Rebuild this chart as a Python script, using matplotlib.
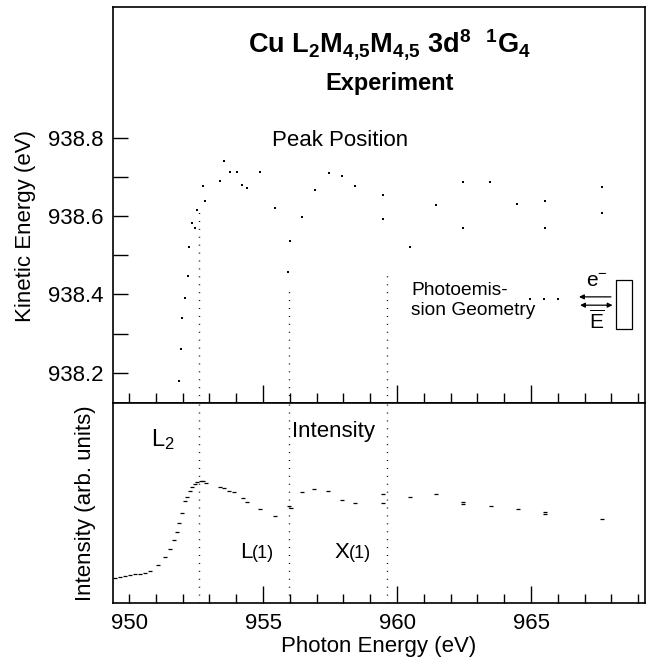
import matplotlib
matplotlib.use("Agg")
import matplotlib.pyplot as plt
from matplotlib.patches import Rectangle

plt.rcParams["font.family"] = ["Liberation Sans", "DejaVu Sans"]
plt.rcParams["mathtext.fontset"] = "custom"
plt.rcParams["mathtext.rm"] = "Liberation Sans"
plt.rcParams["mathtext.it"] = "Liberation Sans"
plt.rcParams["mathtext.bf"] = "Liberation Sans:bold"

# Peak position (kinetic energy) vs photon energy
peak_x = [951.87, 951.95, 951.99, 952.08, 952.20, 952.24, 952.33, 952.45, 952.54,
          952.75, 952.82, 953.40, 953.56, 953.77, 954.02, 954.22, 954.41, 954.89,
          955.44, 955.93, 956.01, 956.44, 956.93, 957.45, 957.96, 958.42, 959.46,
          959.48, 960.49, 961.46, 962.46, 962.46, 963.47, 964.47, 965.52, 965.52,
          967.64, 967.64]
peak_y = [938.178, 938.262, 938.339, 938.390, 938.448, 938.520, 938.582, 938.570,
          938.615, 938.678, 938.639, 938.691, 938.741, 938.713, 938.713, 938.680,
          938.671, 938.714, 938.621, 938.457, 938.536, 938.598, 938.666, 938.710,
          938.702, 938.678, 938.653, 938.593, 938.521, 938.628, 938.688, 938.570,
          938.688, 938.631, 938.639, 938.570, 938.675, 938.607]

# leader dots of the geometry sketch
lead_x = [964.96, 965.50, 966.02]
lead_y = [938.389, 938.389, 938.389]

# Intensity (arb. units)
int_x = [949.48, 949.66, 949.85, 950.04, 950.22, 950.41, 950.60, 950.78, 951.09,
         951.34, 951.53, 951.68, 951.78, 951.88, 951.99, 952.09, 952.18, 952.28,
         952.36, 952.46, 952.55, 952.67, 952.77, 952.87, 953.40, 953.54, 953.74,
         953.92, 954.24, 954.39, 954.89, 955.45, 955.98, 956.03, 956.44, 956.91,
         957.44, 957.96, 958.43, 959.46, 959.46, 960.50, 961.47, 962.47, 962.47,
         963.49, 964.50, 965.52, 965.52, 967.66]
int_y = [0.124, 0.132, 0.137, 0.140, 0.143, 0.147, 0.152, 0.160, 0.190, 0.232,
         0.270, 0.315, 0.357, 0.400, 0.450, 0.510, 0.530, 0.560, 0.578, 0.595,
         0.605, 0.610, 0.610, 0.600, 0.578, 0.573, 0.560, 0.553, 0.523, 0.507,
         0.472, 0.435, 0.485, 0.473, 0.555, 0.568, 0.560, 0.515, 0.500, 0.547,
         0.500, 0.530, 0.547, 0.505, 0.497, 0.483, 0.470, 0.457, 0.443, 0.420]

# dotted markers (L2 edge, L(1), X(1))
vline_x = [952.62, 955.95, 959.64]
vline_top = [938.616, 938.408, 938.453]

xticks = [950, 955, 960, 965]
yticks = [938.2, 938.4, 938.6, 938.8]
yminor = [938.3, 938.5, 938.7]

fig = plt.figure(figsize=(6.49, 6.66), dpi=100)
ax1 = fig.add_axes([0.1741, 0.3949, 0.8197, 0.5946])
ax2 = fig.add_axes([0.1741, 0.0946, 0.8197, 0.3003])

dots = (0, (0.7, 5))

# ---- top panel
ax1.plot(peak_x, peak_y, "s", color="black", ms=1.9, mew=0)
ax1.plot(lead_x, lead_y, "s", color="black", ms=1.9, mew=0)
for xv, yt in zip(vline_x, vline_top):
    ax1.plot([xv, xv], [938.0, yt], color="black", lw=1, linestyle=dots)

ax1.set_xlim(949.4, 969.25)
ax1.set_ylim(938.123, 939.134)
ax1.set_yticks(yticks)
ax1.set_yticklabels([f"{v:.1f}" for v in yticks])
ax1.set_yticks(yminor, minor=True)
ax1.set_xticks([955, 960, 965])
ax1.set_xticks([v for v in range(950, 970) if v % 5 != 0 or v == 950], minor=True)
ax1.tick_params(axis="y", which="both", direction="in", length=10.8, width=1,
                labelsize=16, pad=7, right=False)
ax1.tick_params(axis="x", which="major", direction="in", length=13, width=1,
                labelbottom=False, top=False)
ax1.tick_params(axis="x", which="minor", direction="in", length=7.5, width=1,
                top=False)

ax1.text(0.52, 0.904, r"$\mathbf{Cu\ L_2M_{4{,}5}M_{4{,}5}\ 3d^8\ \ {}^1G_4}$",
         transform=ax1.transAxes, ha="center", va="center", fontsize=19.5)
ax1.text(0.52, 0.808, "Experiment", transform=ax1.transAxes, ha="center",
         va="center", fontsize=17, fontweight="bold")
ax1.text(0.427, 0.664, "Peak Position", transform=ax1.transAxes, ha="center",
         va="center", fontsize=16)
ax1.text(0.56, 0.258, "Photoemis-\nsion Geometry", transform=ax1.transAxes,
         ha="left", va="center", fontsize=13.8, linespacing=1.25)

# geometry sketch
ax1.add_patch(Rectangle((0.945, 0.186), 0.031, 0.125, transform=ax1.transAxes,
                        fill=False, lw=0.9, ec="black"))
ax1.annotate("", xy=(0.876, 0.268), xytext=(0.936, 0.268),
             xycoords="axes fraction",
             arrowprops=dict(arrowstyle="-|>", lw=0.9, color="black",
                             mutation_scale=7, shrinkA=0, shrinkB=0))
ax1.annotate("", xy=(0.878, 0.247), xytext=(0.939, 0.247),
             xycoords="axes fraction",
             arrowprops=dict(arrowstyle="<|-|>", lw=0.9, color="black",
                             mutation_scale=7, shrinkA=0, shrinkB=0))
ax1.text(0.910, 0.306, r"e$^{-}$", transform=ax1.transAxes, ha="center",
         va="center", fontsize=15)
ax1.text(0.910, 0.206, r"$\overline{\mathrm{E}}$", transform=ax1.transAxes,
         ha="center", va="center", fontsize=15)

ax1.text(-0.165, 0.447, "Kinetic Energy (eV)", transform=ax1.transAxes,
         rotation=90, ha="center", va="center", fontsize=16)

# ---- bottom panel
ax2.plot(int_x, int_y, "_", color="black", ms=2.6, mew=0.9)
for xv in vline_x:
    ax2.axvline(xv, color="black", lw=1, linestyle=dots)

ax2.set_xlim(949.4, 969.25)
ax2.set_ylim(0, 1)
ax2.set_yticks([])
ax2.set_xticks(xticks)
ax2.set_xticklabels([str(v) for v in xticks])
ax2.set_xticks([v for v in range(950, 970) if v % 5 != 0], minor=True)
ax2.tick_params(axis="x", which="major", direction="in", length=12, width=1,
                labelsize=16, pad=7, top=False)
ax2.tick_params(axis="x", which="minor", direction="in", length=6.5, width=1,
                top=False)
ax2.xaxis.get_major_ticks()[0].tick1line.set_markersize(6.5)

ax2.text(0.094, 0.815, r"L$_2$", transform=ax2.transAxes, ha="center",
         va="center", fontsize=17)
ax2.text(0.336, 0.855, "Intensity", transform=ax2.transAxes, ha="left",
         va="center", fontsize=16)
ax2.text(0.239, 0.225, "L", transform=ax2.transAxes, ha="left",
         va="baseline", fontsize=16)
ax2.text(0.261, 0.225, "(1)", transform=ax2.transAxes, ha="left",
         va="baseline", fontsize=13)
ax2.text(0.417, 0.225, "X", transform=ax2.transAxes, ha="left",
         va="baseline", fontsize=16)
ax2.text(0.444, 0.225, "(1)", transform=ax2.transAxes, ha="left",
         va="baseline", fontsize=13)

ax2.text(-0.051, 0.5, "Intensity (arb. units)", transform=ax2.transAxes,
         rotation=90, ha="center", va="center", fontsize=16)
ax2.set_xlabel("Photon Energy (eV)", fontsize=16, labelpad=2)

for ax in (ax1, ax2):
    for s in ax.spines.values():
        s.set_linewidth(1.2)

fig.savefig("out.png", dpi=100)
